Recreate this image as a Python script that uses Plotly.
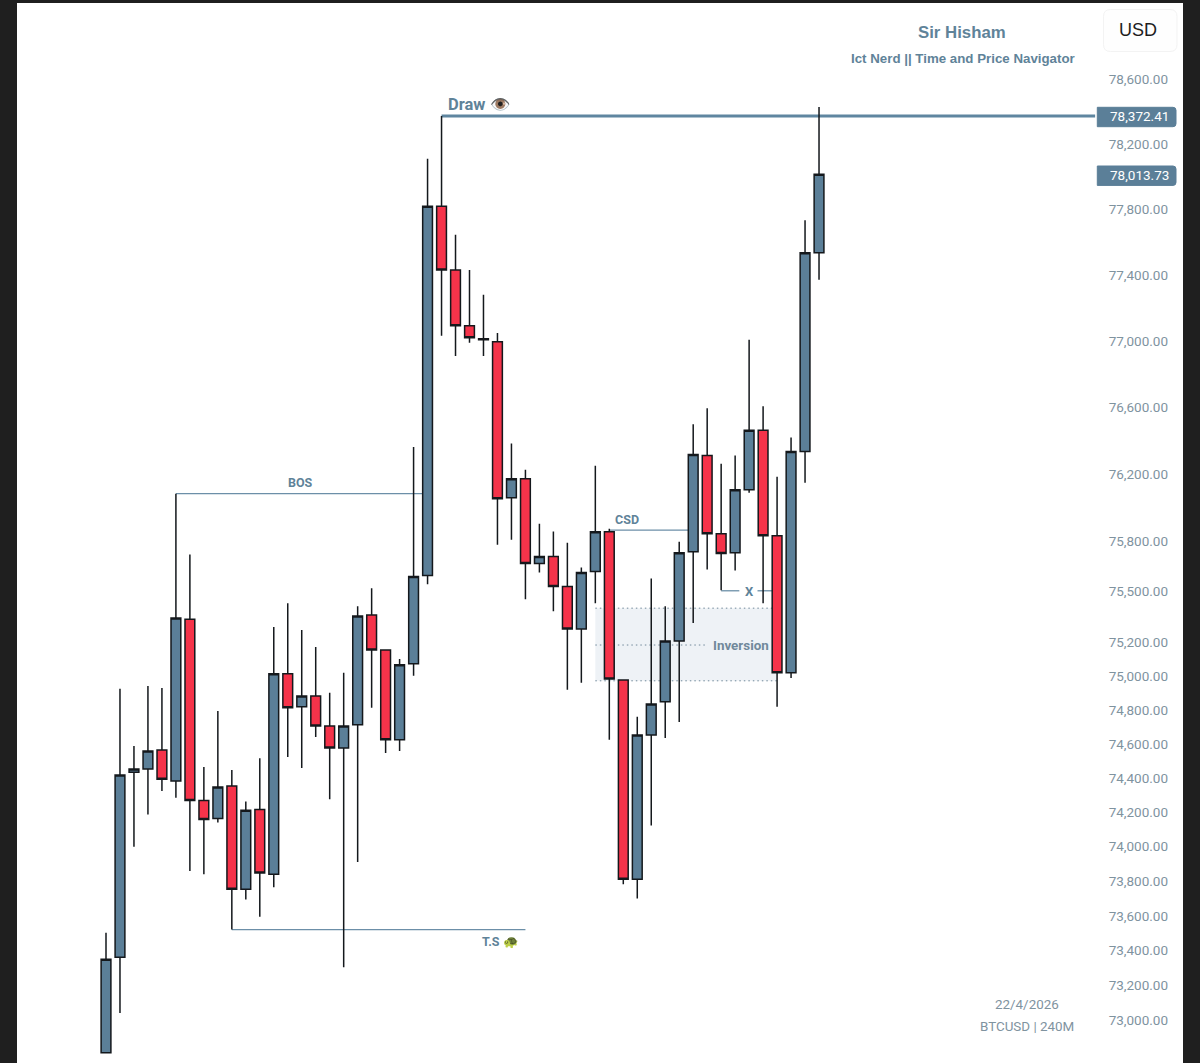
import math
import plotly.graph_objects as go

# candles, oldest first
opens = [72812, 73360, 74435, 74453, 74565, 74383, 75335, 74270, 74165, 74354, 73753, 74217, 73841,
         75012, 74818, 74882, 74706, 74576, 74712, 75359, 75153, 74624, 75071, 75594, 77818, 77430,
         77091, 77012, 76994, 76057, 76170, 75665, 75706, 75529, 75276, 75618, 75854, 74976, 73812,
         74653, 74847, 75206, 75735, 76309, 75842, 75729, 76104, 76461, 75830, 75018, 76333, 77534]
highs = [73502, 74924, 74588, 74941, 74929, 76081, 75718, 74465, 74794, 74447, 74264, 74516, 75288,
         75429, 75271, 75171, 74900, 75018, 75412, 75518, 75153, 75100, 76361, 78109, 78372, 77644,
         77430, 77279, 77048, 76382, 76224, 75901, 75855, 75788, 75641, 76248, 75872, 74976, 74759,
         75576, 75412, 75794, 76497, 76594, 76260, 76309, 77006, 76606, 76182, 76418, 77733, 78428]
lows = [72812, 73040, 74000, 74188, 74325, 74285, 73859, 73841, 74141, 73520, 73694, 73594, 73765,
        74524, 74459, 74641, 74276, 73303, 73912, 74812, 74547, 74559, 75000, 75541, 77030, 76909,
        76988, 76909, 75776, 75806, 75453, 75612, 75382, 74918, 74959, 75429, 74624, 73782, 73700,
        74123, 74635, 74729, 75312, 75629, 75506, 75624, 76087, 75429, 74818, 74988, 76146, 77370]
closes = [73349, 74418, 74453, 74559, 74394, 75341, 74270, 74159, 74348, 73753, 74212, 73847, 75012,
          74812, 74882, 74706, 74576, 74706, 75353, 75153, 74624, 75065, 75588, 77818, 77430, 77091,
          77018, 77006, 76051, 76170, 75665, 75706, 75529, 75276, 75612, 75854, 74982, 73812, 74653,
          74835, 75206, 75729, 76315, 75842, 75724, 76104, 76461, 75830, 75018, 76333, 77534, 78013.73]

price_ticks = [78600, 78200, 77800, 77400, 77000, 76600, 76200, 75800, 75500, 75200, 75000,
               74800, 74600, 74400, 74200, 74000, 73800, 73600, 73400, 73200, 73000]

draw_level = 78372.41
last_close = 78013.73
bos_level = 76081
csd_level = 75864
x_level = 75503
ts_level = 73520
inv_top = 75400
inv_mid = 75182
inv_bottom = 74971

BLUE = "#5b7f98"
RED = "#f5334a"
LINE = "#6c8fa8"
TEXT = "#5f8399"
GREY = "#7f939f"
FONT = "Liberation Sans, sans-serif"
ROBOTO = "Roboto, sans-serif"

W, H = 1200, 1063
L, R, T = 17, 17, 3
PW, PH = W - L - R, H - T


def px(x):
    return (x - L) / PW


def py(y):
    return 1 - (y - T) / PH


def label(x, y, text, size, color=TEXT, bold=False, family=ROBOTO):
    fig.add_annotation(xref="paper", yref="paper", x=px(x), y=py(y), text=f"<b>{text}</b>" if bold else text,
                       showarrow=False, xanchor="center", yanchor="middle",
                       font=dict(size=size, color=color, family=family))


def hline(x0, x1, level, color=LINE, width=1.3, dash="solid"):
    fig.add_shape(type="line", x0=x0, x1=x1, y0=level, y1=level, xref="x", yref="y", layer="below",
                  line=dict(color=color, width=width, dash=dash))


def round_box(x0, y0, x1, y1, fill, line=None, rl=0, rr=0):
    # rounded rectangle on the paper, corners given in page pixels
    path = (f"M {px(x0 + rl)} {py(y0)} L {px(x1 - rr)} {py(y0)} Q {px(x1)} {py(y0)} {px(x1)} {py(y0 + rr)} "
            f"L {px(x1)} {py(y1 - rr)} Q {px(x1)} {py(y1)} {px(x1 - rr)} {py(y1)} "
            f"L {px(x0 + rl)} {py(y1)} Q {px(x0)} {py(y1)} {px(x0)} {py(y1 - rl)} "
            f"L {px(x0)} {py(y0 + rl)} Q {px(x0)} {py(y0)} {px(x0 + rl)} {py(y0)} Z")
    fig.add_shape(type="path", path=path, xref="paper", yref="paper", fillcolor=fill,
                  line=dict(color=line or fill, width=1))


fig = go.Figure()

fig.add_trace(go.Candlestick(
    x=list(range(len(opens))), open=opens, high=highs, low=lows, close=closes,
    increasing=dict(fillcolor=BLUE, line=dict(color="#14181c", width=1.5)),
    decreasing=dict(fillcolor=RED, line=dict(color="#14181c", width=1.5)),
    whiskerwidth=0, showlegend=False, hoverinfo="skip",
))

# inversion zone and the marked levels, all behind the candles
fig.add_shape(type="rect", x0=35, x1=48, y0=inv_bottom, y1=inv_top, xref="x", yref="y", layer="below",
              fillcolor="#eef2f6", line_width=0)
hline(35, 48, inv_top, color="#70889a", width=1, dash="1.5px,3px")
hline(35, 48, inv_bottom, color="#70889a", width=1, dash="1.5px,3px")
hline(35, 42.9, inv_mid, color="#70889a", width=1, dash="1.5px,3px")
hline(24, 70.75, draw_level, color="#5f86a0", width=3)
hline(5, 22.7, bos_level)
hline(36, 41.7, csd_level)
hline(9, 30, ts_level)
hline(44, 45.3, x_level)
hline(46.6, 47.7, x_level)

label(479, 104, "Draw 👁️", 16.5, bold=True)
label(300, 482, "BOS", 12.5, bold=True)
label(627, 519, "CSD", 12.5, bold=True)
label(749, 591, "X", 13, bold=True)
label(741, 645, "Inversion", 13.4, color="#71899b", bold=True)
label(500, 941, "T.S 🐢", 12.5, bold=True)

label(962, 33, "Sir Hisham", 16.8, bold=True, family=FONT)
label(962.5, 59, "Ict Nerd || Time and Price Navigator", 13.3, bold=True, family=FONT)
label(1027, 1004, "22/4/2026", 13.4, color=GREY)
label(1027, 1026, "BTCUSD | 240M", 13.4, color=GREY)

# USD button
round_box(1103.5, 9.5, 1177, 51.5, "#fefefe", line="#f3f3f3", rl=7, rr=7)
label(1138, 30.5, "USD", 18, color="#1d1d1d", family=FONT)

# price tags on the scale
for level, y in ((draw_level, 117), (last_close, 175.7)):
    round_box(1097.3, y - 9.7, 1176, y + 9.7, BLUE, rr=3)
    label(1139, y - 0.7, f"{level:,.2f}", 13.5, color="white")

y_low = 78600 * math.exp(-984 / 12731)
y_high = 78600 * math.exp(76 / 12731)

fig.update_layout(
    width=W, height=H,
    margin=dict(l=L, r=R, t=T, b=0, pad=0),
    paper_bgcolor="#1f1f1f",
    plot_bgcolor="white",
    boxgap=0.3, boxgroupgap=0,
    xaxis=dict(range=[-6.366, 77.034], visible=False, rangeslider_visible=False, fixedrange=True),
    yaxis=dict(
        type="log", side="right", range=[math.log10(y_low), math.log10(y_high)],
        tickvals=price_ticks, ticktext=[f"{v:,.2f}" for v in price_ticks],
        ticklabelposition="inside", ticklabelstandoff=12, ticks="", showgrid=False, zeroline=False, showline=False,
        tickfont=dict(size=13.5, color=GREY, family=ROBOTO), fixedrange=True,
    ),
)

fig.write_html("out.html", config={"displayModeBar": False},
               post_script="document.body.style.margin='0';document.body.style.overflow='hidden';")
